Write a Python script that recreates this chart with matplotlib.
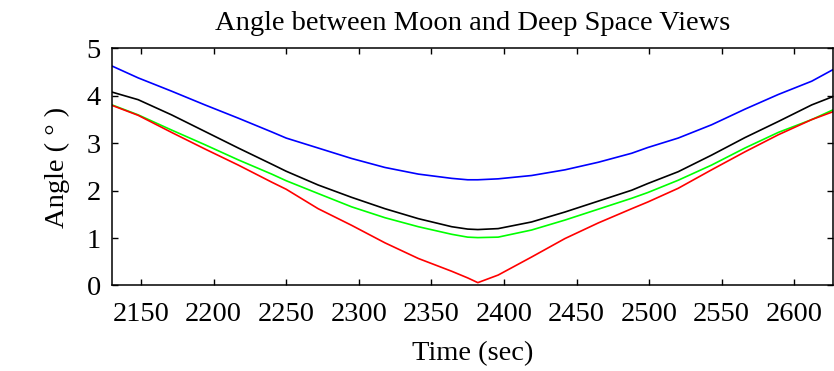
import numpy as np
import matplotlib
matplotlib.use('Agg')
from matplotlib import pyplot as plt

# sample times (sec)
t = [2130, 2148, 2171, 2194, 2217, 2240, 2250, 2272, 2295, 2318, 2341, 2364, 2375,
     2382, 2396, 2419, 2442, 2465, 2488, 2499, 2520, 2543, 2566, 2589, 2612, 2627]

blue = [4.63, 4.38, 4.10, 3.81, 3.53, 3.24, 3.11, 2.90, 2.68, 2.49, 2.35, 2.26, 2.23,
        2.23, 2.25, 2.32, 2.44, 2.60, 2.79, 2.91, 3.11, 3.39, 3.72, 4.03, 4.31, 4.56]
black = [4.08, 3.92, 3.60, 3.25, 2.90, 2.56, 2.41, 2.12, 1.86, 1.62, 1.41, 1.24, 1.19,
         1.18, 1.20, 1.34, 1.55, 1.78, 2.01, 2.15, 2.40, 2.75, 3.12, 3.46, 3.81, 3.99]
green = [3.81, 3.60, 3.28, 2.97, 2.65, 2.35, 2.21, 1.94, 1.66, 1.43, 1.24, 1.08, 1.02,
         1.01, 1.02, 1.17, 1.38, 1.61, 1.84, 1.96, 2.22, 2.54, 2.90, 3.23, 3.50, 3.71]
red = [3.80, 3.59, 3.23, 2.88, 2.54, 2.18, 2.03, 1.62, 1.27, 0.90, 0.57, 0.30, 0.16,
       0.06, 0.22, 0.60, 0.99, 1.32, 1.62, 1.76, 2.05, 2.44, 2.82, 3.18, 3.50, 3.67]

xticks = [2150, 2200, 2250, 2300, 2350, 2400, 2450, 2500, 2550, 2600]
yticks = [0, 1, 2, 3, 4, 5]

plt.rcParams['font.family'] = ['Liberation Serif', 'DejaVu Serif']

fig = plt.figure(figsize=(8.34, 3.71), dpi=100)
ax = fig.add_axes([0.1343, 0.2305, 0.8651, 0.6388])

ax.plot(t, blue, color='#0000ff', lw=1.2)
ax.plot(t, black, color='#000000', lw=1.2)
ax.plot(t, green, color='#00ff00', lw=1.2)
ax.plot(t, red, color='#ff0000', lw=1.2)

ax.set_xlim(2130, 2627)
ax.set_ylim(0, 5)
ax.set_xticks(xticks)
ax.set_yticks(yticks)
ax.tick_params(direction='in', top=True, right=True, length=4, width=1.0,
               labelsize=20.5)
ax.tick_params(axis='x', pad=12)
ax.tick_params(axis='y', pad=8)
for s in ax.spines.values():
    s.set_linewidth(1.1)

ax.set_title('Angle between Moon and Deep Space Views', fontsize=20.5, pad=13)
ax.set_xlabel('Time (sec)', fontsize=20.5, labelpad=10)
ax.set_ylabel('Angle ( ° )', fontsize=20.5, labelpad=12)

fig.savefig('out.png', dpi=100)
